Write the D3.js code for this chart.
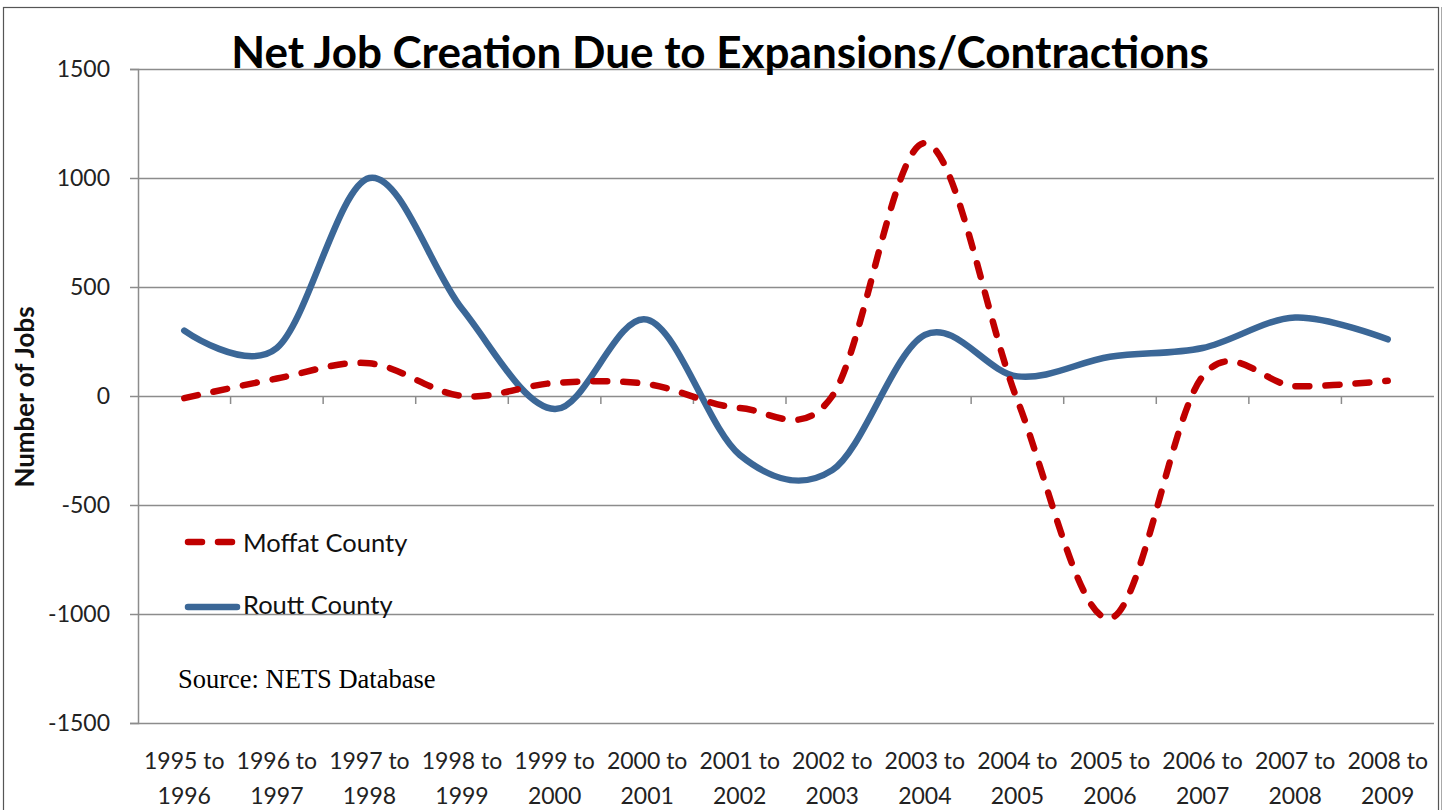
<!DOCTYPE html>
<html>
<head>
<meta charset="utf-8">
<script src="https://cdn.jsdelivr.net/npm/d3@7"></script>
<style>
  html, body { margin: 0; padding: 0; background: #fff; }
  svg { display: block; }
</style>
</head>
<body>
<svg id="chart" width="1445" height="810"></svg>
<script>
// Period labels (two lines each)
const periods = [
  ["1995 to", "1996"], ["1996 to", "1997"], ["1997 to", "1998"], ["1998 to", "1999"],
  ["1999 to", "2000"], ["2000 to", "2001"], ["2001 to", "2002"], ["2002 to", "2003"],
  ["2003 to", "2004"], ["2004 to", "2005"], ["2005 to", "2006"], ["2006 to", "2007"],
  ["2007 to", "2008"], ["2008 to", "2009"]
];
const moffat = [-10, 80, 150, 0, 60, 55, -55, 0, 1160, -20, -1020, 90, 45, 70];
const routt  = [300, 220, 1000, 400, -60, 350, -270, -340, 280, 90, 180, 220, 360, 260];
const yTicks = [-1500, -1000, -500, 0, 500, 1000, 1500];

const svg = d3.select("#chart");
const plotL = 138, plotR = 1434, plotT = 69, plotB = 723;

const x = d3.scaleBand().domain(d3.range(periods.length)).range([plotL, plotR]);
const y = d3.scaleLinear().domain([-1500, 1500]).range([plotB, plotT]);
const cx = i => x(i) + x.bandwidth() / 2;

// Outer frame
svg.append("rect").attr("x", 3.5).attr("y", 7.5).attr("width", 1435).attr("height", 820)
  .attr("fill", "none").attr("stroke", "#555").attr("stroke-width", 1.2);
svg.append("line").attr("x1", 1441.5).attr("x2", 1441.5).attr("y1", 7).attr("y2", 810)
  .attr("stroke", "#aaa").attr("stroke-width", 1);

// Horizontal gridlines
svg.append("g").selectAll("line").data(yTicks).join("line")
  .attr("x1", plotL).attr("x2", plotR)
  .attr("y1", d => Math.round(y(d)) + 0.5).attr("y2", d => Math.round(y(d)) + 0.5)
  .attr("stroke", "#8c8c8c").attr("stroke-width", 1.5);

// Y axis with ticks and labels (plain hyphen for negatives)
const yAxis = d3.axisLeft(y).tickValues(yTicks).tickSize(8).tickPadding(20).tickFormat(d => String(d));
const yg = svg.append("g").attr("transform", `translate(${plotL},0)`).call(yAxis);
yg.select(".domain").attr("stroke", "#8c8c8c").attr("stroke-width", 1.5);
yg.selectAll(".tick line").attr("stroke", "#8c8c8c").attr("stroke-width", 1.5);
yg.selectAll(".tick text").attr("font-family", "Lato, 'Open Sans', sans-serif")
  .attr("font-size", 23).attr("fill", "#222");

// Category ticks along the zero line
const bounds = d3.range(1, periods.length).map(i => x(i));
svg.append("g").selectAll("line").data(bounds).join("line")
  .attr("x1", d => d).attr("x2", d => d)
  .attr("y1", y(0)).attr("y2", y(0) + 8)
  .attr("stroke", "#8c8c8c").attr("stroke-width", 1.5);

// Category labels below the plot
const xl = svg.append("g").selectAll("text").data(periods).join("text")
  .attr("x", (d, i) => cx(i)).attr("text-anchor", "middle")
  .attr("font-family", "Lato, 'Open Sans', sans-serif").attr("font-size", 23).attr("fill", "#222");
xl.append("tspan").attr("x", (d, i) => cx(i)).attr("y", 769).text(d => d[0]);
xl.append("tspan").attr("x", (d, i) => cx(i)).attr("y", 804).text(d => d[1]);

// Series lines
const line = d3.line().x((d, i) => cx(i)).y(d => y(d)).curve(d3.curveCatmullRom.alpha(0));
svg.append("path").datum(routt).attr("d", line)
  .attr("fill", "none").attr("stroke", "#3b6797").attr("stroke-width", 6.5)
  .attr("stroke-linejoin", "round").attr("stroke-linecap", "round");
svg.append("path").datum(moffat).attr("d", line)
  .attr("fill", "none").attr("stroke", "#c00000").attr("stroke-width", 6.5)
  .attr("stroke-dasharray", "14,16").attr("stroke-linecap", "round");

// Title
svg.append("text").attr("x", 720).attr("y", 68).attr("text-anchor", "middle")
  .attr("font-family", "Lato, 'Open Sans', sans-serif").attr("font-weight", "bold")
  .attr("font-size", 44).attr("fill", "#000")
  .text("Net Job Creation Due to Expansions/Contractions");

// Y axis title
svg.append("text").attr("transform", "translate(34,397) rotate(-90)").attr("text-anchor", "middle")
  .attr("font-family", "Lato, 'Open Sans', sans-serif").attr("font-weight", "bold")
  .attr("font-size", 26).attr("fill", "#111").text("Number of Jobs");

// Legend
const legend = [
  { name: "Moffat County", color: "#c00000", dash: "14,16", y: 542, ty: 552 },
  { name: "Routt County", color: "#3b6797", dash: null, y: 607, ty: 614 }
];
const lg = svg.append("g").selectAll("g").data(legend).join("g");
lg.append("line").attr("x1", 188).attr("x2", 237).attr("y1", d => d.y).attr("y2", d => d.y)
  .attr("stroke", d => d.color).attr("stroke-width", 6.5).attr("stroke-linecap", "round")
  .attr("stroke-dasharray", d => d.dash);
lg.append("text").attr("x", 243).attr("y", d => d.ty)
  .attr("font-family", "Lato, 'Open Sans', sans-serif").attr("font-size", 25.5).attr("fill", "#111")
  .text(d => d.name);

// Source note
svg.append("text").attr("x", 178).attr("y", 688)
  .attr("font-family", "'Liberation Serif', 'Times New Roman', serif").attr("font-size", 26.5).attr("fill", "#000")
  .text("Source: NETS Database");
</script>
</body>
</html>
